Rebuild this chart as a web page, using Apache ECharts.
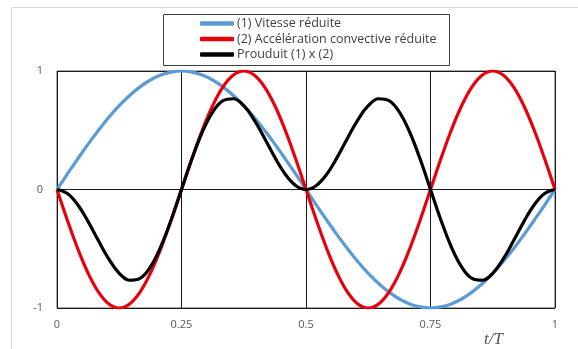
<!DOCTYPE html>
<html>
<head>
<meta charset="utf-8">
<script src="https://cdn.jsdelivr.net/npm/echarts@6/dist/echarts.min.js"></script>
<style>
  html, body { margin: 0; padding: 0; background: #fff; }
  #chart { width: 578px; height: 349px; }
</style>
</head>
<body>
<div id="chart"></div>
<script>
// t/T sample positions (evenly spaced, 1/48 step)
var tValues = ['0', '0.021', '0.042', '0.063', '0.083', '0.104', '0.125', '0.146', '0.167', '0.188', '0.208', '0.229',
  '0.25', '0.271', '0.292', '0.313', '0.333', '0.354', '0.375', '0.396', '0.417', '0.438', '0.458', '0.479',
  '0.5', '0.521', '0.542', '0.563', '0.583', '0.604', '0.625', '0.646', '0.667', '0.688', '0.708', '0.729',
  '0.75', '0.771', '0.792', '0.813', '0.833', '0.854', '0.875', '0.896', '0.917', '0.938', '0.958', '0.979', '1'];

// (1) Vitesse réduite
var vitesse = [0, 0.131, 0.259, 0.383, 0.5, 0.609, 0.707, 0.793, 0.866, 0.924, 0.966, 0.991,
  1, 0.991, 0.966, 0.924, 0.866, 0.793, 0.707, 0.609, 0.5, 0.383, 0.259, 0.131,
  0, -0.131, -0.259, -0.383, -0.5, -0.609, -0.707, -0.793, -0.866, -0.924, -0.966, -0.991,
  -1, -0.991, -0.966, -0.924, -0.866, -0.793, -0.707, -0.609, -0.5, -0.383, -0.259, -0.131, 0];

// (2) Accélération convective réduite
var acceleration = [0, -0.259, -0.5, -0.707, -0.866, -0.966, -1, -0.966, -0.866, -0.707, -0.5, -0.259,
  0, 0.259, 0.5, 0.707, 0.866, 0.966, 1, 0.966, 0.866, 0.707, 0.5, 0.259,
  0, -0.259, -0.5, -0.707, -0.866, -0.966, -1, -0.966, -0.866, -0.707, -0.5, -0.259,
  0, 0.259, 0.5, 0.707, 0.866, 0.966, 1, 0.966, 0.866, 0.707, 0.5, 0.259, 0];

// Prouduit (1) x (2)
var produit = [0, -0.034, -0.129, -0.271, -0.433, -0.588, -0.707, -0.766, -0.75, -0.653, -0.483, -0.257,
  0, 0.257, 0.483, 0.653, 0.75, 0.766, 0.707, 0.588, 0.433, 0.271, 0.129, 0.034,
  0, 0.034, 0.129, 0.271, 0.433, 0.588, 0.707, 0.766, 0.75, 0.653, 0.483, 0.257,
  0, -0.257, -0.483, -0.653, -0.75, -0.766, -0.707, -0.588, -0.433, -0.271, -0.129, -0.034, 0];

var seriesNames = ['(1) Vitesse réduite', '(2) Accélération convective réduite', 'Prouduit (1) x (2)'];
var seriesColors = ['#5b9bd5', '#e8000b', '#000000'];
var seriesValues = [vitesse, acceleration, produit];

var chart = echarts.init(document.getElementById('chart'));

var series = seriesValues.map(function (vals, i) {
  return {
    name: seriesNames[i],
    type: 'line',
    data: vals,
    smooth: 0.4,
    showSymbol: false,
    symbol: 'none',
    lineStyle: { color: seriesColors[i], width: 3.2 },
    itemStyle: { color: seriesColors[i] },
    z: 3 + i
  };
});

chart.setOption({
  animation: false,
  backgroundColor: '#fff',
  textStyle: { fontFamily: 'Open Sans' },
  grid: {
    left: 57, right: 23, top: 71, bottom: 41,
    show: true, borderColor: '#595959', borderWidth: 1
  },
  legend: {
    orient: 'vertical',
    left: 200, top: 17,
    padding: 0,
    itemGap: 2.5,
    itemWidth: 34, itemHeight: 4.5,
    icon: 'roundRect',
    textStyle: { fontSize: 12.5, color: '#404040', padding: [0, 0, 0, -2] },
    data: seriesNames
  },
  xAxis: {
    type: 'category',
    data: tValues,
    boundaryGap: false,
    axisLine: { show: false },
    axisTick: { show: false },
    axisLabel: { color: '#595959', fontSize: 11, margin: 11, interval: 11 },
    splitLine: { show: true, interval: 11, lineStyle: { color: '#1a1a1a', width: 1 } }
  },
  yAxis: {
    type: 'value',
    min: -1, max: 1, interval: 1,
    axisLine: { show: false },
    axisTick: { show: false },
    axisLabel: { color: '#595959', fontSize: 11, margin: 14 },
    splitLine: { show: true, lineStyle: { color: '#1a1a1a', width: 1 } }
  },
  graphic: [
    {
      type: 'polyline',
      shape: { points: [[11.5, 400], [11.5, 7.5], [600, 7.5]] },
      style: { stroke: '#d9d9d9', lineWidth: 1, fill: null },
      silent: true
    },
    {
      type: 'rect',
      shape: { x: 163.5, y: 14.5, width: 286, height: 51 },
      style: { stroke: '#404040', lineWidth: 1, fill: null },
      silent: true
    },
    {
      type: 'text',
      left: 484, top: 331,
      style: {
        text: 't/T',
        font: 'italic 17px "Liberation Serif"',
        fill: '#595959'
      }
    }
  ],
  series: series
});
</script>
</body>
</html>
